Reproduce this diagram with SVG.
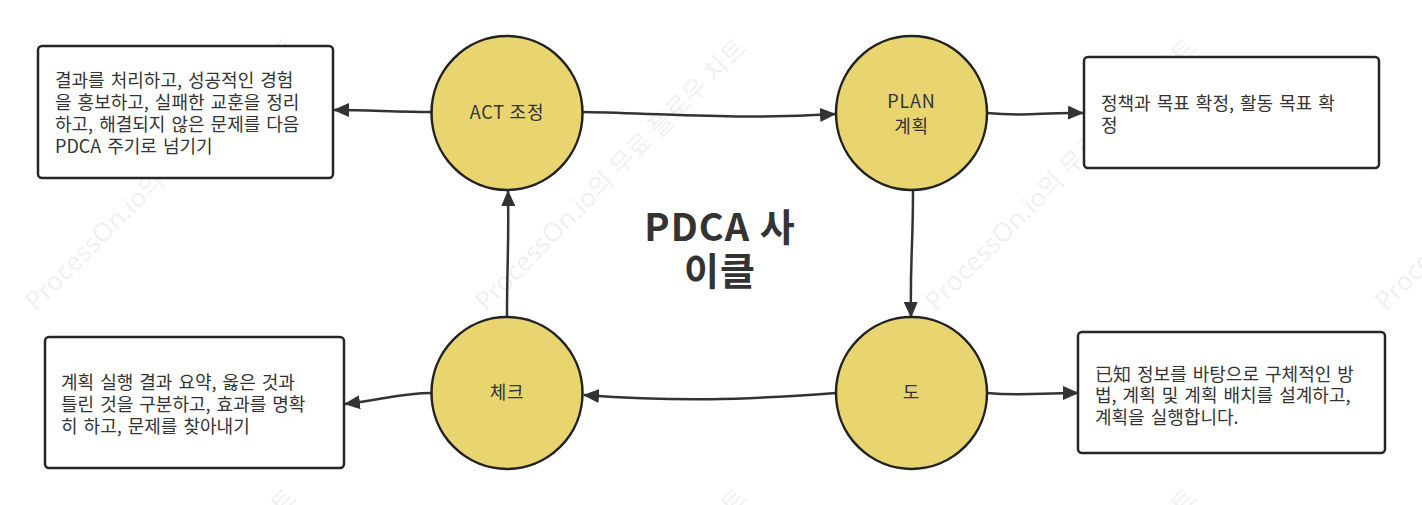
<svg xmlns="http://www.w3.org/2000/svg" width="1422" height="505" viewBox="0 0 1422 505">
<defs>
<style>
.wm{font-family:"Noto Sans","Noto Sans CJK KR",sans-serif;font-size:26px;fill:#000;fill-opacity:0.08}
.node{fill:#E8D56F;stroke:#222;stroke-width:2.5}
.box{fill:#fff;stroke:#262626;stroke-width:2.5}
.t{font-family:"Noto Sans CJK KR","Noto Sans CJK SC",sans-serif;font-size:18px;word-spacing:2px;fill:#333}
.ct{font-family:"Noto Sans CJK KR","Noto Sans CJK SC",sans-serif;font-size:18px;letter-spacing:0.8px;fill:#333;text-anchor:middle}
.title{font-family:"Noto Sans CJK KR",sans-serif;font-size:38px;letter-spacing:1px;font-weight:bold;fill:#333;text-anchor:middle}
.edge{fill:none;stroke:#333;stroke-width:2.5;marker-end:url(#arr)}
</style>
<marker id="arr" markerUnits="userSpaceOnUse" markerWidth="16" markerHeight="14" viewBox="0 0 16 14" refX="15" refY="7" orient="auto">
<path d="M0,0 L16,7 L0,14 Z" fill="#333"/>
</marker>
</defs>
<rect width="1422" height="505" fill="#fff"/>
<g id="watermark">
<text class="wm" x="36" y="312" transform="rotate(-45 36 312)">ProcessOn.io의 무료 플로우 차트</text>
<text class="wm" x="486" y="312" transform="rotate(-45 486 312)">ProcessOn.io의 무료 플로우 차트</text>
<text class="wm" x="936" y="312" transform="rotate(-45 936 312)">ProcessOn.io의 무료 플로우 차트</text>
<text class="wm" x="1386" y="312" transform="rotate(-45 1386 312)">ProcessOn.io의 무료 플로우 차트</text>
<text class="wm" x="36" y="762" transform="rotate(-45 36 762)">ProcessOn.io의 무료 플로우 차트</text>
<text class="wm" x="486" y="762" transform="rotate(-45 486 762)">ProcessOn.io의 무료 플로우 차트</text>
<text class="wm" x="936" y="762" transform="rotate(-45 936 762)">ProcessOn.io의 무료 플로우 차트</text>
</g>
<g id="connectors">
<path class="edge" d="M432,112 C395,112 370,110 334,110"/>
<path class="edge" d="M583,112 C680,114 740,120 835,114"/>
<path class="edge" d="M987,113 C1030,117 1040,112 1083,113"/>
<path class="edge" d="M913,190 C913,250 910,260 911,317"/>
<path class="edge" d="M507,317 C507,260 509,250 508,191"/>
<path class="edge" d="M836,393 C740,400 680,402 584,395"/>
<path class="edge" d="M432,393 C400,393 380,400 345,404"/>
<path class="edge" d="M987,393 C1020,396 1040,393 1078,393"/>
</g>
<g id="act">
<ellipse class="node" cx="507" cy="113" rx="75.5" ry="77"/>
<text class="ct" x="507" y="119">ACT 조정</text>
</g>
<g id="plan">
<ellipse class="node" cx="911.5" cy="113" rx="75.5" ry="77"/>
<text class="ct" x="911.5" y="108">PLAN</text>
<text class="ct" x="911.5" y="133">계획</text>
</g>
<g id="check">
<ellipse class="node" cx="507" cy="393" rx="75.5" ry="76"/>
<text class="ct" x="507" y="399">체크</text>
</g>
<g id="do">
<ellipse class="node" cx="911.5" cy="393" rx="75.5" ry="76"/>
<text class="ct" x="911.5" y="399">도</text>
</g>
<g id="box-act">
<rect class="box" x="38" y="46" width="295" height="132" rx="4"/>
<text class="t" x="55" y="87">결과를 처리하고, 성공적인 경험</text>
<text class="t" x="55" y="109">을 홍보하고, 실패한 교훈을 정리</text>
<text class="t" x="55" y="131">하고, 해결되지 않은 문제를 다음</text>
<text class="t" x="55" y="153">PDCA 주기로 넘기기</text>
</g>
<g id="box-plan">
<rect class="box" x="1084" y="57" width="295" height="111" rx="4"/>
<text class="t" x="1101" y="110">정책과 목표 확정, 활동 목표 확</text>
<text class="t" x="1101" y="132">정</text>
</g>
<g id="box-check">
<rect class="box" x="45" y="337" width="299" height="131" rx="4"/>
<text class="t" x="61" y="389">계획 실행 결과 요약, 옳은 것과</text>
<text class="t" x="61" y="411">틀린 것을 구분하고, 효과를 명확</text>
<text class="t" x="61" y="433">히 하고, 문제를 찾아내기</text>
</g>
<g id="box-do">
<rect class="box" x="1078" y="332" width="307" height="121" rx="4"/>
<text class="t" x="1095" y="381">已知 정보를 바탕으로 구체적인 방</text>
<text class="t" x="1095" y="402">법, 계획 및 계획 배치를 설계하고,</text>
<text class="t" x="1095" y="424">계획을 실행합니다.</text>
</g>
<g id="title">
<text class="title" x="720" y="241">PDCA 사</text>
<text class="title" x="720" y="285">이클</text>
</g>
</svg>
